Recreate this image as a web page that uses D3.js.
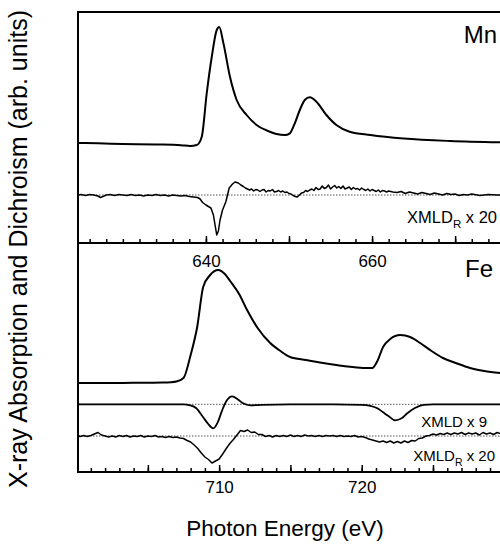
<!DOCTYPE html>
<html>
<head>
<meta charset="utf-8">
<script src="https://cdn.jsdelivr.net/npm/d3@7"></script>
<style>
  html, body { margin: 0; padding: 0; background: #fff; }
  svg { display: block; font-family: "Liberation Sans", Arial, Helvetica, sans-serif; }
</style>
</head>
<body>
<svg id="chart" width="500" height="546"></svg>
<script>
// ---------------- DATA ----------------
// Mn L-edge absorption (arb. units, relative to pre-edge)
const mnXasE = [624.6, 627, 630, 634, 637, 638.1, 638.9, 639.5, 640.1, 640.7, 641.3, 641.6, 642.1, 642.9, 643.7, 644.9, 646.1, 647.7, 648.5, 649.5, 650.1, 650.7, 651.3, 651.9, 652.5, 653.3, 654.5, 655.7, 657.3, 659.8, 663.8, 669.4, 675.4];
const mnXasI = [0.0, -0.03, -0.1, -0.15, -0.22, -0.3, -0.2, 0.63, 5.0, 8.6, 11.3, 11.6, 10.0, 6.6, 4.3, 2.8, 1.8, 1.13, 0.9, 0.8, 0.97, 1.97, 3.3, 4.3, 4.57, 4.13, 2.8, 1.8, 1.13, 0.8, 0.45, 0.2, 0.07];

// Mn XMLD_R x 20
const mnXmldE = [624.6, 625, 625.5, 626, 626.5, 627, 627.3, 627.6, 628, 628.5, 629, 629.5, 630, 630.5, 631, 631.5, 632, 632.5, 633, 633.5, 634, 634.5, 635, 635.5, 636, 636.5, 637, 637.5, 638, 638.5, 639, 639.3, 639.6, 640.0, 640.3, 640.6, 640.9, 641.1, 641.3, 641.5, 641.7, 642.0, 642.4, 642.8, 643.2, 643.5, 643.9, 644.2,
  644.5, 644.75, 645.0, 645.25, 645.5, 645.75, 646.0, 646.25, 646.5, 646.75, 647.0, 647.25, 647.5, 647.75, 648.0, 648.25, 648.5, 648.75, 649.0, 649.25, 649.5, 649.75, 650.0, 650.25, 650.5, 650.75, 651.0, 651.25, 651.5, 651.75, 652.0, 652.25, 652.5, 652.75, 653.0, 653.25, 653.5, 653.75, 654.0, 654.25, 654.5, 654.75, 655.0, 655.25, 655.5, 655.75, 656.0, 656.25, 656.5, 656.75, 657.0, 657.25, 657.5, 657.75, 658.0, 658.25, 658.5, 658.75, 659.0, 659.25, 659.5, 659.75, 660.0, 660.25, 660.5, 660.75, 661.0, 661.25, 661.5, 661.75, 662.0,
  662.5, 663.0, 663.5, 664.0, 664.5, 665.0, 665.5, 666.0, 666.5, 667.0, 667.5, 668.0, 668.5, 669.0, 669.5, 670.0, 670.5, 671.0, 671.5, 672.0, 673.0, 674.0, 675.0, 676.0];
const mnXmldI = [0.0, 0.05, -0.05, 0.05, 0.0, -0.1, -0.25, -0.15, 0.0, 0.05, -0.05, 0.05, 0.0, -0.05, 0.05, -0.05, 0.0, -0.1, 0.0, -0.05, 0.05, -0.05, 0.0, -0.1, 0.0, -0.05, -0.1, -0.05, -0.15, -0.2, -0.25, -0.4, -0.75, -1.0, -1.15, -1.3, -2.0, -3.0, -4.0, -3.6, -2.5, -1.5, -0.67, 0.7, 1.1, 1.3, 1.2, 1.0,
  0.85, 0.7, 0.6, 0.5, 0.6, 0.4, 0.55, 0.5, 0.35, 0.5, 0.55, 0.3, 0.45, 0.4, 0.55, 0.3, 0.35, 0.45, 0.3, 0.4, 0.25, 0.3, 0.15, 0.1, -0.05, -0.15, -0.2, 0.0, 0.2, 0.25, 0.45, 0.35, 0.5, 0.6, 0.45, 0.75, 0.55, 0.6, 0.9, 0.65, 0.75, 1.0, 0.6, 0.8, 0.95, 0.7, 0.85, 0.65, 0.9, 0.6, 0.7, 0.8, 0.55, 0.75, 0.6, 0.65, 0.5, 0.7, 0.55, 0.45, 0.6, 0.4, 0.55, 0.45, 0.35, 0.5, 0.3, 0.45, 0.4, 0.3, 0.4,
  0.3, 0.25, 0.35, 0.15, 0.3, 0.2, 0.1, 0.25, 0.15, 0.05, 0.2, 0.1, 0.0, 0.15, 0.05, 0.1, -0.05, 0.05, 0.0, 0.1, -0.05, 0.05, 0.0, 0.0];

// Fe L-edge absorption
const feXasE = [700.1, 702, 704, 706, 706.6, 707.0, 707.5, 708.0, 708.46, 708.88, 709.37, 709.93, 710.4, 710.77, 711.4, 711.96, 712.7, 713.58, 714.3, 714.98, 716.1, 717.3, 718.7, 720.1, 720.74, 721.1, 721.5, 722.0, 722.7, 723.4, 724.1, 724.9, 725.7, 726.6, 727.6, 728.6, 729.7];
const feXasI = [0.0, 0.0, 0.02, 0.05, 0.08, 0.15, 0.5, 2.8, 5.6, 9.6, 10.8, 11.3, 10.9, 10.2, 8.9, 7.3, 5.5, 4.0, 3.2, 2.6, 2.3, 2.0, 1.7, 1.5, 1.5, 2.2, 3.6, 4.4, 4.8, 4.6, 4.0, 3.2, 2.5, 2.0, 1.5, 1.2, 1.0];

// Fe XMLD x 9
const feXmldE = [700.1, 706, 707.5, 707.96, 708.4, 708.88, 709.2, 709.58, 709.9, 710.21, 710.5, 710.91, 711.3, 711.68, 712.2, 713, 715, 718, 720, 720.6, 721.1, 721.5, 721.9, 722.35, 722.8, 723.2, 723.7, 724.35, 725, 729.7];
const feXmldI = [0, 0, 0, -0.1, -0.4, -1.3, -1.9, -2.4, -1.8, -0.6, 0.3, 0.8, 0.5, 0.1, -0.1, -0.05, 0, 0, -0.05, -0.15, -0.4, -0.8, -1.2, -1.6, -1.4, -0.9, -0.4, -0.05, 0, 0];

// Fe XMLD_R x 20
const feXmldrE = [700.1, 700.25, 700.5, 700.75, 701.0, 701.25, 701.5, 701.75, 702.0, 702.25, 702.5, 702.75, 703.0, 703.25, 703.5, 703.75, 704.0, 704.25, 704.5, 704.75, 705.0, 705.25, 705.5, 705.75, 706.0, 706.25, 706.5, 706.75, 707.0, 707.25, 707.5, 707.75, 708.0, 708.25, 708.5, 708.75, 709.0, 709.25, 709.5, 709.75, 710.0, 710.25, 710.5, 710.75, 711.0, 711.25, 711.5, 711.75, 712.0, 712.25, 712.5, 712.75, 713.0, 713.25, 713.5, 713.75, 714.0, 714.25, 714.5, 714.75, 715.0, 715.25, 715.5, 715.75, 716.0, 716.25, 716.5, 716.75, 717.0, 717.25, 717.5, 717.75, 718.0, 718.25, 718.5, 718.75, 719.0, 719.25, 719.5, 719.75, 720.0, 720.25, 720.5, 720.75, 721.0, 721.25, 721.5, 721.75, 722.0, 722.25, 722.5, 722.75, 723.0, 723.25, 723.5, 723.75, 724.0, 724.25, 724.5, 724.75, 725.0, 725.25, 725.5, 725.75, 726.0, 726.25, 726.5, 726.75, 727.0, 727.25, 727.5, 727.75, 728.0, 728.25, 728.5, 728.75, 729.0, 729.25, 729.5, 729.7];
const feXmldrI = [0.05, -0.05, 0.05, -0.05, 0.05, 0.2, 0.35, 0.1, 0.0, -0.1, 0.0, -0.1, 0.05, -0.05, 0.05, -0.1, 0.0, -0.05, 0.05, -0.1, 0.0, -0.05, 0.05, -0.1, -0.05, -0.15, -0.05, -0.15, -0.1, -0.2, -0.25, -0.45, -0.6, -0.9, -1.25, -1.7, -2.1, -2.35, -2.7, -2.5, -2.3, -1.8, -1.25, -0.75, -0.35, 0.1, 0.55, 0.45, 0.6, 0.35, 0.4, 0.15, 0.15, -0.05, 0.05, -0.1, 0.05, -0.05, 0.05, -0.05, 0.1, -0.05, 0.05, -0.05, 0.1, 0.0, 0.05, -0.05, 0.05, -0.05, 0.05, 0.0, 0.05, -0.05, 0.05, -0.05, 0.0, -0.05, 0.05, -0.1, -0.05, -0.15, -0.3, -0.4, -0.5, -0.6, -0.5, -0.65, -0.5, -0.7, -0.55, -0.7, -0.5, -0.65, -0.45, -0.5, -0.25, -0.2, 0.0, 0.05, 0.2, 0.1, 0.25, 0.15, 0.3, 0.15, 0.3, 0.2, 0.35, 0.15, 0.3, 0.2, 0.3, 0.1, 0.35, 0.2, 0.3, 0.15, 0.35, 0.25];

// Axis ticks
const mnMinorTicks = d3.range(626, 677, 2);
const mnMajorTicks = [640, 650, 660, 670];
const mnTickLabels = [640, 660];
const feMinorTicks = d3.range(701, 730, 1);
const feMajorTicks = [705, 710, 715, 720, 725];
const feTickLabels = [710, 720];

// Offsets (stacking of curves, arb. units)
const mnXasOffset = 10.0, mnXmldOffset = 4.8;
const feXasOffset = 8.9, feXmldOffset = 6.77, feXmldrOffset = 3.6;

// ---------------- LAYOUT ----------------
const svg = d3.select("#chart");
const padL = 78, padR = 500, padT = 12, padMid = 243, padB = 472;

const xMn = d3.scaleLinear().domain([624.6, 675.4]).range([padL, padR]);
const yMn = d3.scaleLinear().domain([0, 23.1]).range([padMid, padT]);
const xFe = d3.scaleLinear().domain([700.1, 729.7]).range([padL, padR]);
const yFe = d3.scaleLinear().domain([0, 22.9]).range([padB, padMid]);

function zip(E, I) { return E.map((e, i) => [e, I[i]]); }

function drawCurve(x, y, E, I, off, curve, width) {
  const line = d3.line().x(d => x(d[0])).y(d => y(d[1] + off)).curve(curve);
  svg.append("path").datum(zip(E, I)).attr("d", line)
    .attr("fill", "none").attr("stroke", "#000").attr("stroke-width", width)
    .attr("stroke-linejoin", "round").attr("stroke-linecap", "round");
}
function drawBaseline(x, y, off) {
  svg.append("line").attr("x1", x.range()[0]).attr("x2", x.range()[1])
    .attr("y1", y(off)).attr("y2", y(off))
    .attr("stroke", "#555").attr("stroke-width", 1).attr("stroke-dasharray", "1.5,1.5");
}

// Baselines
drawBaseline(xMn, yMn, mnXmldOffset);
drawBaseline(xFe, yFe, feXmldOffset);
drawBaseline(xFe, yFe, feXmldrOffset);

// Curves
drawCurve(xMn, yMn, mnXasE, mnXasI, mnXasOffset, d3.curveMonotoneX, 2);
drawCurve(xMn, yMn, mnXmldE, mnXmldI, mnXmldOffset, d3.curveLinear, 1.5);
drawCurve(xFe, yFe, feXasE, feXasI, feXasOffset, d3.curveMonotoneX, 2);
drawCurve(xFe, yFe, feXmldE, feXmldI, feXmldOffset, d3.curveMonotoneX, 1.8);
drawCurve(xFe, yFe, feXmldrE, feXmldrI, feXmldrOffset, d3.curveLinear, 1.5);

// Axes (ticks pointing inward)
function drawAxis(x, yPos, minor, major, labels, pad, fs) {
  const gMin = svg.append("g").attr("transform", `translate(0,${yPos})`)
    .call(d3.axisBottom(x).tickValues(minor).tickSizeInner(-4).tickSizeOuter(0).tickFormat(""));
  gMin.select(".domain").remove();
  gMin.selectAll("line").attr("stroke", "#000").attr("stroke-width", 1.5);
  const gMaj = svg.append("g").attr("transform", `translate(0,${yPos})`)
    .call(d3.axisBottom(x).tickValues(major).tickSizeInner(-7).tickSizeOuter(0).tickPadding(pad)
      .tickFormat(d => labels.includes(d) ? d3.format("d")(d) : ""));
  gMaj.select(".domain").remove();
  gMaj.selectAll("line").attr("stroke", "#000").attr("stroke-width", 1.5);
  gMaj.selectAll("text").attr("font-size", fs).attr("fill", "#000")
    .attr("font-family", "Liberation Sans, Arial, sans-serif");
  svg.append("line").attr("x1", x.range()[0]).attr("x2", x.range()[1])
    .attr("y1", yPos).attr("y2", yPos).attr("stroke", "#000").attr("stroke-width", 2);
}
drawAxis(xMn, padMid, mnMinorTicks, mnMajorTicks, mnTickLabels, 12, 17);
drawAxis(xFe, padB, feMinorTicks, feMajorTicks, feTickLabels, 9, 17);

// Frame
svg.append("line").attr("x1", padL).attr("x2", padL).attr("y1", padT - 1).attr("y2", padB + 1)
  .attr("stroke", "#000").attr("stroke-width", 2);
svg.append("line").attr("x1", padL).attr("x2", padR).attr("y1", padT).attr("y2", padT)
  .attr("stroke", "#000").attr("stroke-width", 2);

// Panel labels
svg.append("text").attr("x", 497).attr("y", 43).attr("text-anchor", "end")
  .attr("font-size", 24).text("Mn");
svg.append("text").attr("x", 493).attr("y", 277).attr("text-anchor", "end")
  .attr("font-size", 24).text("Fe");

function xmldLabel(xEnd, y, fs, sub, factor) {
  const t = svg.append("text").attr("x", xEnd).attr("y", y).attr("text-anchor", "end").attr("font-size", fs);
  t.append("tspan").text("XMLD");
  if (sub) t.append("tspan").attr("font-size", fs * 0.7).attr("dy", fs * 0.3).text(sub);
  t.append("tspan").attr("dy", sub ? -fs * 0.3 : 0).text(" x " + factor);
}
xmldLabel(497, 223, 16.5, "R", 20);
xmldLabel(487, 427, 15, null, 9);
xmldLabel(495, 461, 15, "R", 20);

// Axis titles
svg.append("text").attr("x", 285).attr("y", 536).attr("text-anchor", "middle")
  .attr("font-size", 22.5).text("Photon Energy (eV)");
svg.append("text").attr("transform", "translate(27,249) rotate(-90)").attr("text-anchor", "middle")
  .attr("font-size", 25).text("X-ray Absorption and Dichroism (arb. units)");
</script>
</body>
</html>
